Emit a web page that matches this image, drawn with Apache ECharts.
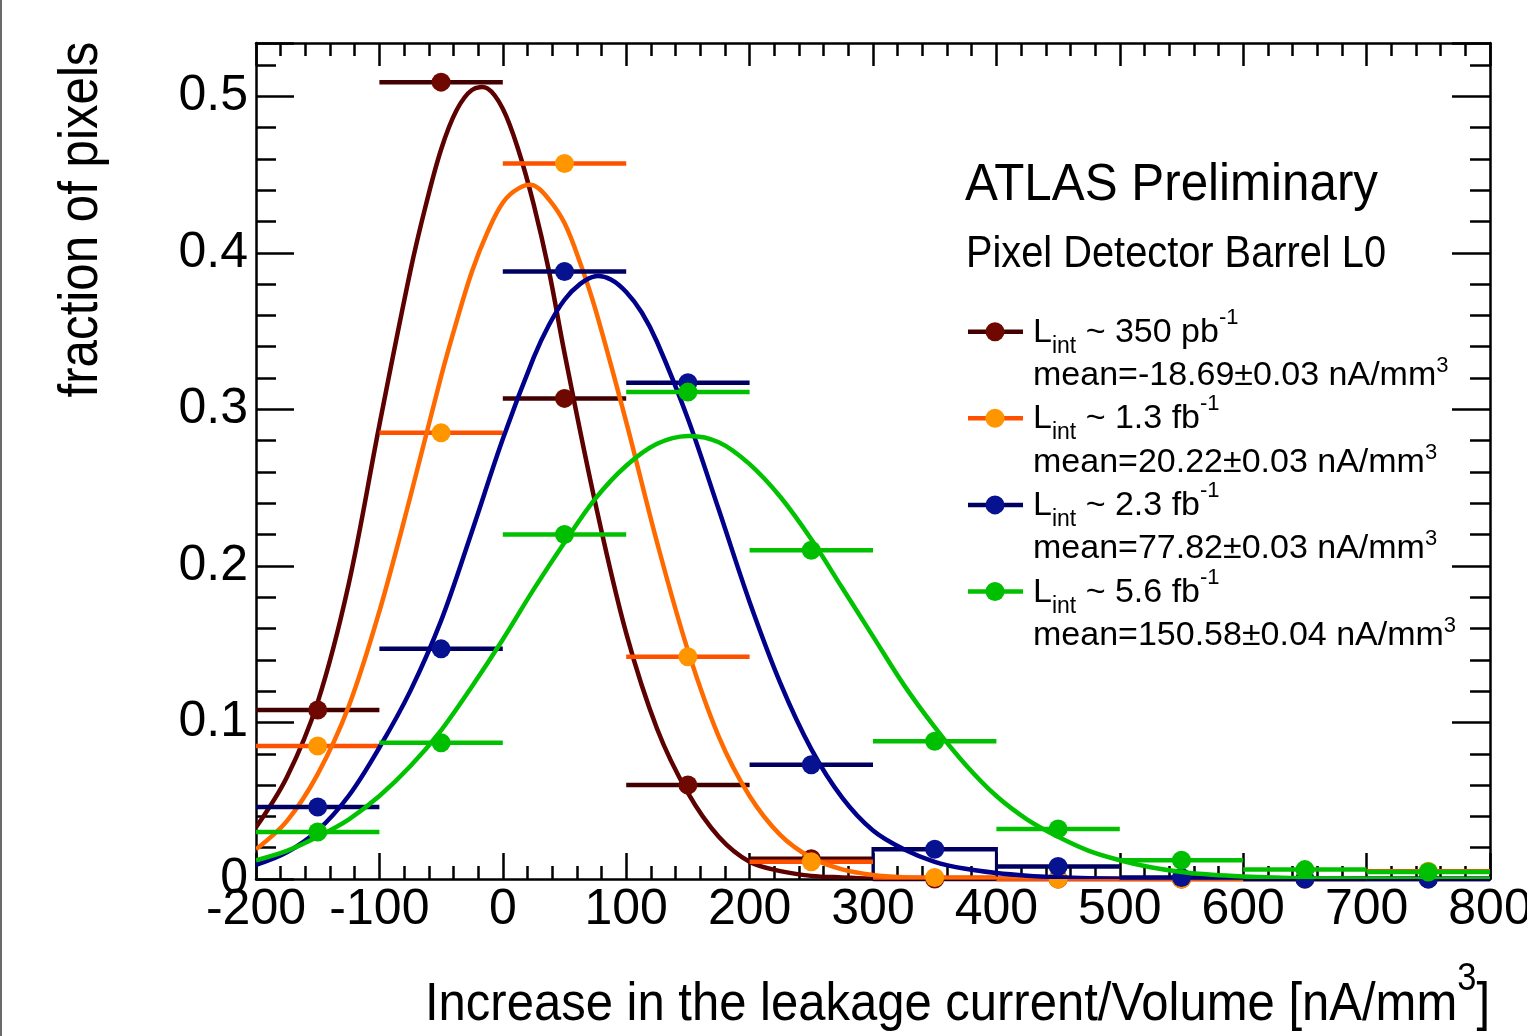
<!DOCTYPE html>
<html><head><meta charset="utf-8">
<script src="https://cdn.jsdelivr.net/npm/echarts@6/dist/echarts.min.js"></script>
<style>html,body{margin:0;padding:0;background:#fff;overflow:hidden}#chart{width:1527px;height:1036px}</style>
</head><body><div id="chart"></div>
<script>
// ---------------- DATA ----------------
const xRange = [-200, 800];
const yRange = [0, 0.534];
const binCenters = [-150, -50, 50, 150, 250, 350, 450, 550, 650, 750];
const binHalfWidth = 50;
const brownPts  = [0.108, 0.509, 0.307, 0.060, 0.013, 0, 0, 0, 0, 0];
const orangePts = [0.085, 0.285, 0.457, 0.142, 0.011, 0.001, 0, 0, 0, 0.005];
const bluePts   = [0.046, 0.147, 0.388, 0.317, 0.073, 0.019, 0.008, 0.001, 0, 0];
const greenPts  = [0.030, 0.087, 0.220, 0.311, 0.210, 0.088, 0.032, 0.012, 0.006, 0.0045];
// fit curves (every 25 units)
const curveX = [-200,-175,-150,-125,-100,-75,-50,-25,0,25,50,75,100,125,150,175,200,225,250,275,300,
  325,350,375,400,425,450,475,500,525,550,575,600,625,650,675,700,725,750,775,800];
const brownFit  = [0.033,0.065,0.113,0.188,0.290,0.388,0.466,0.504,0.492,0.431,0.336,0.240,0.157,0.096,0.055,0.027,0.011,0.005,0.002,0.001,0.0003,
  0,0,0,0,0,0,0,0,0,0,0,0,0,0,0,0,0,0,0,0];
const orangeFit = [0.019,0.037,0.067,0.110,0.171,0.244,0.321,0.388,0.432,0.443,0.419,0.364,0.292,0.215,0.146,0.091,0.053,0.028,0.0136,0.0062,0.0026,
  0.001,0.0004,0.0001,0,0,0,0,0,0,0,0,0,0,0,0,0,0,0,0,0];
const blueFit   = [0.009,0.017,0.031,0.053,0.084,0.120,0.165,0.222,0.281,0.333,0.370,0.385,0.375,0.343,0.294,0.236,0.177,0.125,0.083,0.052,0.031,
  0.019,0.011,0.0065,0.0038,0.0021,0.0011,0.0005,0.0002,0,0,0,0,0,0,0,0,0,0,0,0];
const greenFit  = [0.012,0.018,0.027,0.038,0.053,0.072,0.095,0.123,0.153,0.185,0.215,0.243,0.264,0.278,0.283,0.279,0.265,0.244,0.217,0.186,0.155,
  0.124,0.097,0.073,0.053,0.038,0.027,0.018,0.012,0.0075,0.0045,0.0027,0.0016,0.0009,0.0005,0.0003,0.0002,0.0001,0,0,0];
// extra readings near the peaks (half steps)
const brownPeakX  = [-62.5, -37.5, -12.5, 12.5, 37.5];
const brownPeakY  = [0.430, 0.491, 0.505, 0.466, 0.388];
const orangePeakX = [-37.5, -12.5, 12.5, 37.5, 62.5];
const orangePeakY = [0.356, 0.413, 0.441, 0.434, 0.394];
const bluePeakX   = [37.5, 62.5, 87.5, 112.5];
const bluePeakY   = [0.354, 0.380, 0.383, 0.362];
const greenPeakX  = [];
const greenPeakY  = [];
const boxBins = [[300, 400, 0.0195]];
const lumiLabels = ['350 pb', '1.3 fb', '2.3 fb', '5.6 fb'];
const meanLabels = ['-18.69\u00b10.03', '20.22\u00b10.03', '77.82\u00b10.03', '150.58\u00b10.04'];
const titleLines = ['ATLAS Preliminary', 'Pixel Detector Barrel L0'];
const xTitle = ['Increase in the leakage current/Volume [nA/mm', '3', ']'];
const yTitle = 'fraction of pixels';

// ---------------- STYLE ----------------
const FONT = '"Liberation Sans", Arial, Helvetica, sans-serif';
const sets = [
  {pts: brownPts,  fit: brownFit,  px: brownPeakX,  py: brownPeakY,  curve: '#5c0000', bar: '#420000', mark: '#6e0800'},
  {pts: orangePts, fit: orangeFit, px: orangePeakX, py: orangePeakY, curve: '#ff6a00', bar: '#ff5000', mark: '#ff9600'},
  {pts: bluePts,   fit: blueFit,   px: bluePeakX,   py: bluePeakY,   curve: '#00008a', bar: '#000060', mark: '#06128f'},
  {pts: greenPts,  fit: greenFit,  px: greenPeakX,  py: greenPeakY,  curve: '#00c200', bar: '#00c000', mark: '#00bf00'}
];

const mctx = document.createElement('canvas').getContext('2d');
function measure(str, size) { mctx.font = size + 'px ' + FONT; mctx.textBaseline = 'alphabetic'; return mctx.measureText(str).width; }
function baseOff(size) { mctx.font = size + 'px ' + FONT; mctx.textBaseline = 'middle'; const d = mctx.measureText('H').actualBoundingBoxDescent; mctx.textBaseline = 'alphabetic'; return d; }
function textRun(pieces, opt) {
  let x = 0; const children = [];
  pieces.forEach(p => {
    const w = measure(p.t, p.s);
    children.push({type: 'text', x: x, y: (p.dy || 0) - baseOff(p.s), silent: true,
      style: {text: p.t, font: p.s + 'px ' + FONT, fill: opt.color || '#000',
        align: 'left', verticalAlign: 'middle', textAlign: 'left', textVerticalAlign: 'middle'}});
    x += w;
  });
  const W = x;
  const sx = opt.width ? opt.width / W : 1;
  let shift = 0;
  if (opt.anchor === 'right') shift = -W; else if (opt.anchor === 'center') shift = -W / 2;
  children.forEach(c => { c.x += shift; });
  return {type: 'group', x: opt.x, y: opt.y, scaleX: sx, rotation: opt.rotation || 0, children: children, z: 100};
}

const graphics = [];
graphics.push({type: 'rect', shape: {x: 0, y: 0, width: 2, height: 1036}, style: {fill: '#6a6a6a'}, silent: true});
graphics.push(textRun([{t: titleLines[0], s: 51}], {x: 965, y: 200, width: 413}));
graphics.push(textRun([{t: titleLines[1], s: 44}], {x: 966, y: 266.7, width: 420}));
graphics.push(textRun([{t: xTitle[0], s: 54}, {t: xTitle[1], s: 38, dy: -30}, {t: xTitle[2], s: 54}],
  {x: 1490, y: 1020, width: 1065, anchor: 'right'}));
graphics.push(textRun([{t: yTitle, s: 55}], {x: 97, y: 219.5, width: 356, anchor: 'center', rotation: Math.PI / 2}));
sets.forEach((s, i) => {
  const b1 = 341.7 + 86.6 * i;
  const my = 331.7 + 86.6 * i;
  graphics.push({type: 'line', shape: {x1: 968, y1: my, x2: 1023, y2: my}, style: {stroke: s.bar, lineWidth: 4.5}, silent: true, z: 100});
  graphics.push({type: 'circle', shape: {cx: 995, cy: my, r: 9.5}, style: {fill: s.mark}, silent: true, z: 101});
  graphics.push(textRun([{t: 'L', s: 34}, {t: 'int', s: 23, dy: 11}, {t: ' ~ ' + lumiLabels[i], s: 34}, {t: '-1', s: 22, dy: -18}],
    {x: 1033, y: b1}));
  graphics.push(textRun([{t: 'mean=' + meanLabels[i] + ' nA/mm', s: 34}, {t: '3', s: 22, dy: -13}],
    {x: 1033, y: b1 + 43.3}));
});

// ---------------- AXES ----------------
const axisLine = {show: true, onZero: false, lineStyle: {color: '#000', width: 2.5}};
const noLine = {show: false, onZero: false};
function xAx(pos, major, minor, labels) {
  return {type: 'value', min: xRange[0], max: xRange[1], interval: 100, position: pos,
    axisLine: axisLine,
    axisTick: {show: true, inside: true, length: major, lineStyle: {color: '#000', width: 2.5}},
    minorTick: {show: true, splitNumber: 5, length: minor, lineStyle: {color: '#000', width: 2.5}},
    axisLabel: labels ? {show: true, fontSize: 50, fontFamily: FONT, color: '#000', margin: 6} : {show: false},
    splitLine: {show: false}, minorSplitLine: {show: false}};
}
function yAx(pos, interval, len, line, labels) {
  return {type: 'value', min: yRange[0], max: yRange[1], interval: interval, position: pos,
    axisLine: line ? axisLine : noLine,
    axisTick: {show: true, inside: true, length: len, lineStyle: {color: '#000', width: 2.5}},
    axisLabel: labels ? {show: true, fontSize: 50, fontFamily: FONT, color: '#000', margin: 8,
      formatter: v => { const r = Math.round(v * 10); return Math.abs(v * 10 - r) < 1e-6 ? (r === 0 ? '0' : (r / 10).toFixed(1)) : ''; }} : {show: false},
    splitLine: {show: false}};
}

// ---------------- SERIES ----------------
const series = [];
function errRender(color) {
  return function (params, api) {
    const x = api.value(0), y = api.value(1), hw = api.value(2);
    const p1 = api.coord([x - hw, y]), p2 = api.coord([x + hw, y]);
    return {type: 'line', shape: {x1: p1[0], y1: p1[1], x2: p2[0], y2: p2[1]}, style: {stroke: color, lineWidth: 4.5}};
  };
}
sets.forEach((s, k) => {
  const z = 2 + k * 2;
  const curvePts = curveX.map((x, i) => [x, s.fit[i]])
    .concat(s.px.map((x, i) => [x, s.py[i]]))
    .sort((a, b) => a[0] - b[0]);
  series.push({type: 'custom', name: 'err' + k, z: z, silent: true, clip: false,
    data: binCenters.map((x, i) => [x, s.pts[i], binHalfWidth]),
    encode: {x: 0, y: 1}, renderItem: errRender(s.bar)});
  series.push({type: 'scatter', name: 'pts' + k, z: z, silent: true, clip: false,
    data: binCenters.map((x, i) => [x, s.pts[i]]), symbol: 'circle', symbolSize: 19,
    itemStyle: {color: s.mark, opacity: 1}});
  // fit curve: one smooth polyline through the read points, placed via the axes' scales
  series.push({type: 'custom', name: 'fit' + k, z: z, silent: true, clip: true,
    data: [curvePts[0]], encode: {x: 0, y: 1},
    renderItem: function (params, api) {
      const pts = curvePts.map(p => api.coord(p));
      return {type: 'polyline', shape: {points: pts, smooth: 0.35},
        style: {stroke: s.curve, lineWidth: 4.5, fill: null, lineJoin: 'round'}};
    }});
  if (k === 0) {
    series.push({type: 'custom', name: 'box', z: 3, silent: true, clip: false,
      data: boxBins, encode: {x: [0, 1], y: 2},
      renderItem: function (params, api) {
        const p1 = api.coord([api.value(0), api.value(2)]);
        const p2 = api.coord([api.value(1), 0]);
        return {type: 'rect', shape: {x: p1[0], y: p1[1], width: p2[0] - p1[0], height: p2[1] - p1[1]},
          style: {fill: 'none', stroke: '#000050', lineWidth: 3}};
      }});
  }
});

const chart = echarts.init(document.getElementById('chart'), null, {renderer: 'canvas'});
chart.setOption({
  animation: false,
  backgroundColor: '#fff',
  grid: {left: 256, right: 37, top: 43, bottom: 157, containLabel: false, outerBoundsMode: 'none'},
  xAxis: [xAx('bottom', 26, 13, true), xAx('top', 23, 13, false)],
  yAxis: [yAx('left', 0.1, 38, true, true), yAx('left', 0.02, 20, false, false),
          yAx('right', 0.1, 38, true, false), yAx('right', 0.02, 20, false, false)],
  series: series,
  graphic: {elements: graphics}
});
</script></body></html>
